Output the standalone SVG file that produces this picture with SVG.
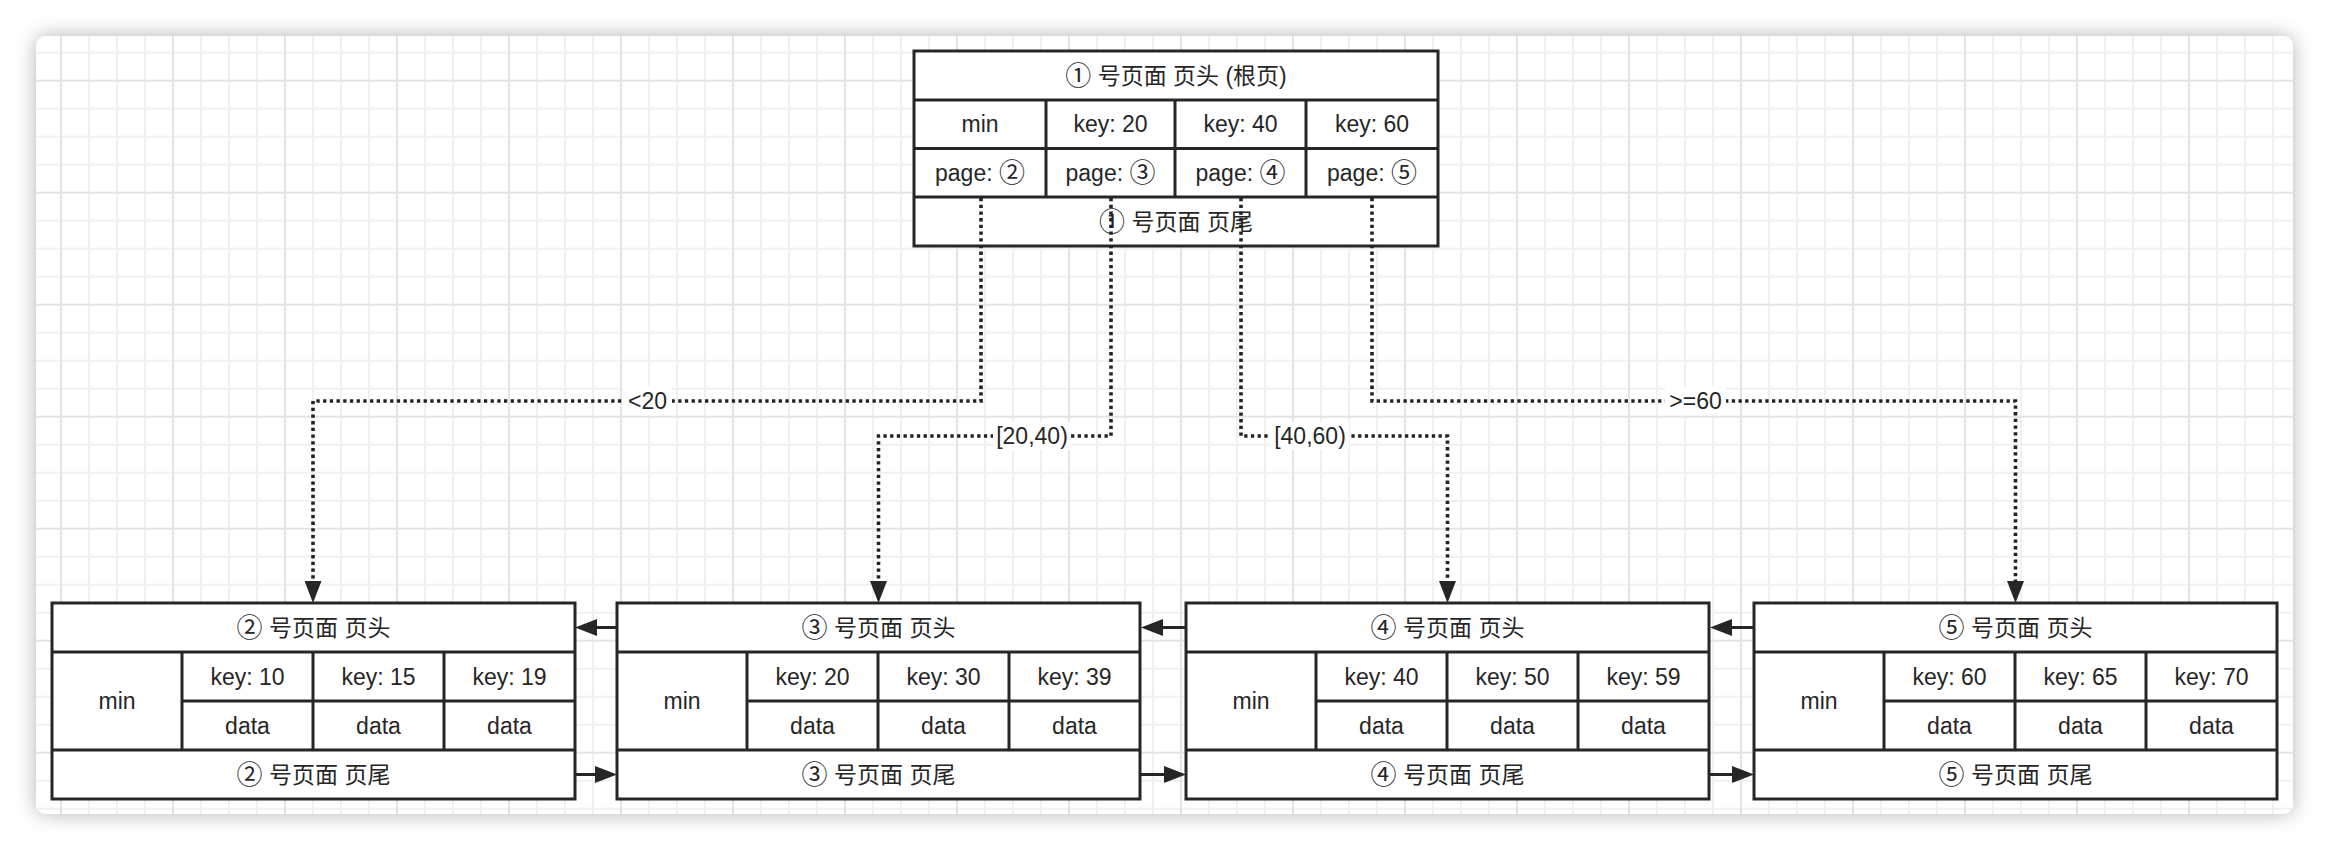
<svg xmlns="http://www.w3.org/2000/svg" width="2330" height="852" viewBox="0 0 2330 852">
<defs>
<style>
.box{fill:#fff;stroke:#262626;stroke-width:3}
.ln{fill:none;stroke:#262626;stroke-width:3}
.t{font-family:"Liberation Sans","Noto Sans CJK SC",sans-serif;font-size:23px;fill:#262626;text-anchor:middle;dominant-baseline:central}
.c{font-size:26px}
.dot{fill:none;stroke:#222;stroke-width:3.6;stroke-dasharray:3.3 3.4}
.sol{fill:none;stroke:#262626;stroke-width:3}
.lbg{fill:#fff}
</style>
<pattern id="grid" x="60" y="79.7" width="112" height="112" patternUnits="userSpaceOnUse">
<path d="M29 0V112M57 0V112M85 0V112M0 29H112M0 57H112M0 85H112" stroke="#f0f0f0" stroke-width="2"/>
<path d="M1 0V112M0 1H112" stroke="#e4e4e4" stroke-width="2"/>
</pattern>
<filter id="sh" x="-5%" y="-10%" width="110%" height="120%">
<feDropShadow dx="0" dy="0" stdDeviation="10" flood-color="#000" flood-opacity="0.3"/>
</filter>
<marker id="arr" markerUnits="userSpaceOnUse" markerWidth="22" markerHeight="17" viewBox="0 0 22 17" refX="0" refY="8.5" orient="auto">
<path d="M0 0L22 8.5L0 17z" fill="#262626"/>
</marker>
</defs>
<rect x="0" y="0" width="2330" height="852" fill="#fff"/>
<rect x="36" y="36" width="2257" height="778" rx="10" fill="#fff" filter="url(#sh)"/>
<rect x="36" y="36" width="2257" height="778" rx="10" fill="url(#grid)"/>

<g id="page1">
<rect class="box" x="914" y="51" width="524" height="195"/>
<path class="ln" d="M914 100H1438M914 148.5H1438M914 197H1438M1046 100V197M1175 100V197M1306 100V197"/>
<text class="t" x="1176" y="75.5"><tspan class="c">①</tspan> 号页面 页头 (根页)</text>
<text class="t" x="980" y="124">min</text>
<text class="t" x="1110.5" y="124">key: 20</text>
<text class="t" x="1240.5" y="124">key: 40</text>
<text class="t" x="1372" y="124">key: 60</text>
<text class="t" x="980" y="172.5">page: <tspan class="c">②</tspan></text>
<text class="t" x="1110.5" y="172.5">page: <tspan class="c">③</tspan></text>
<text class="t" x="1240.5" y="172.5">page: <tspan class="c">④</tspan></text>
<text class="t" x="1372" y="172.5">page: <tspan class="c">⑤</tspan></text>
<text class="t" x="1176" y="221.5"><tspan class="c">①</tspan> 号页面 页尾</text>
</g>

<g id="page2">
<rect class="box" x="52" y="603" width="523" height="196"/>
<path class="ln" d="M52 652H575M182 701H575M52 750H575M182 652V750M313 652V750M444 652V750"/>
<text class="t" x="313.5" y="627.5"><tspan class="c">②</tspan> 号页面 页头</text>
<text class="t" x="117" y="701">min</text>
<text class="t" x="247.5" y="676.5">key: 10</text>
<text class="t" x="378.5" y="676.5">key: 15</text>
<text class="t" x="509.5" y="676.5">key: 19</text>
<text class="t" x="247.5" y="725.5">data</text>
<text class="t" x="378.5" y="725.5">data</text>
<text class="t" x="509.5" y="725.5">data</text>
<text class="t" x="313.5" y="774.5"><tspan class="c">②</tspan> 号页面 页尾</text>
</g>

<g id="page3">
<rect class="box" x="617" y="603" width="523" height="196"/>
<path class="ln" d="M617 652H1140M747 701H1140M617 750H1140M747 652V750M878 652V750M1009 652V750"/>
<text class="t" x="878.5" y="627.5"><tspan class="c">③</tspan> 号页面 页头</text>
<text class="t" x="682" y="701">min</text>
<text class="t" x="812.5" y="676.5">key: 20</text>
<text class="t" x="943.5" y="676.5">key: 30</text>
<text class="t" x="1074.5" y="676.5">key: 39</text>
<text class="t" x="812.5" y="725.5">data</text>
<text class="t" x="943.5" y="725.5">data</text>
<text class="t" x="1074.5" y="725.5">data</text>
<text class="t" x="878.5" y="774.5"><tspan class="c">③</tspan> 号页面 页尾</text>
</g>

<g id="page4">
<rect class="box" x="1186" y="603" width="523" height="196"/>
<path class="ln" d="M1186 652H1709M1316 701H1709M1186 750H1709M1316 652V750M1447 652V750M1578 652V750"/>
<text class="t" x="1447.5" y="627.5"><tspan class="c">④</tspan> 号页面 页头</text>
<text class="t" x="1251" y="701">min</text>
<text class="t" x="1381.5" y="676.5">key: 40</text>
<text class="t" x="1512.5" y="676.5">key: 50</text>
<text class="t" x="1643.5" y="676.5">key: 59</text>
<text class="t" x="1381.5" y="725.5">data</text>
<text class="t" x="1512.5" y="725.5">data</text>
<text class="t" x="1643.5" y="725.5">data</text>
<text class="t" x="1447.5" y="774.5"><tspan class="c">④</tspan> 号页面 页尾</text>
</g>

<g id="page5">
<rect class="box" x="1754" y="603" width="523" height="196"/>
<path class="ln" d="M1754 652H2277M1884 701H2277M1754 750H2277M1884 652V750M2015 652V750M2146 652V750"/>
<text class="t" x="2015.5" y="627.5"><tspan class="c">⑤</tspan> 号页面 页头</text>
<text class="t" x="1819" y="701">min</text>
<text class="t" x="1949.5" y="676.5">key: 60</text>
<text class="t" x="2080.5" y="676.5">key: 65</text>
<text class="t" x="2211.5" y="676.5">key: 70</text>
<text class="t" x="1949.5" y="725.5">data</text>
<text class="t" x="2080.5" y="725.5">data</text>
<text class="t" x="2211.5" y="725.5">data</text>
<text class="t" x="2015.5" y="774.5"><tspan class="c">⑤</tspan> 号页面 页尾</text>
</g>

<g id="connectors">
<path class="dot" d="M981 198V401H313V581" marker-end="url(#arr)"/>
<path class="dot" d="M1111 198V436H878.5V581" marker-end="url(#arr)"/>
<path class="dot" d="M1241 198V436H1447.5V581" marker-end="url(#arr)"/>
<path class="dot" d="M1372 198V401H2015.5V581" marker-end="url(#arr)"/>
<rect class="lbg" x="623" y="387" width="49" height="28"/>
<text class="t" x="647.5" y="401">&lt;20</text>
<rect class="lbg" x="993" y="422" width="78" height="28"/>
<text class="t" x="1032" y="436">[20,40)</text>
<rect class="lbg" x="1271" y="422" width="78" height="28"/>
<text class="t" x="1310" y="436">[40,60)</text>
<rect class="lbg" x="1665" y="387" width="61" height="28"/>
<text class="t" x="1695.5" y="401">&gt;=60</text>
<path class="sol" d="M617 627.5H597" marker-end="url(#arr)"/>
<path class="sol" d="M1186 627.5H1163" marker-end="url(#arr)"/>
<path class="sol" d="M1754 627.5H1732" marker-end="url(#arr)"/>
<path class="sol" d="M575 774.5H595" marker-end="url(#arr)"/>
<path class="sol" d="M1140 774.5H1164" marker-end="url(#arr)"/>
<path class="sol" d="M1709 774.5H1732" marker-end="url(#arr)"/>
</g>
</svg>
